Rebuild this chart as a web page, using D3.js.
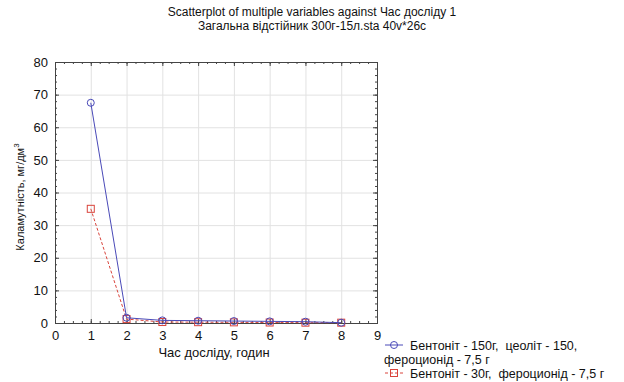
<!DOCTYPE html>
<html>
<head>
<meta charset="utf-8">
<script src="https://cdn.jsdelivr.net/npm/d3@7"></script>
<style>
  body { margin: 0; background: #fff; }
  text { font-family: "Liberation Sans", Arial, sans-serif; fill: #111; white-space: pre; }
</style>
</head>
<body>
<svg width="624" height="382"></svg>
<script>
const hours = [1, 2, 3, 4, 5, 6, 7, 8];
const bentZeol = [67.5, 1.6, 0.8, 0.7, 0.6, 0.5, 0.4, 0.1];
const bentFerro = [35, 1.2, 0.3, 0.25, 0.2, 0.15, 0.1, 0.1];
const xTicks = [0, 1, 2, 3, 4, 5, 6, 7, 8, 9];
const yTicks = [0, 10, 20, 30, 40, 50, 60, 70, 80];
const titleLines = ["Scatterplot of multiple variables against Час досліду 1",
                    "Загальна відстійник 300г-15л.sta 40v*26c"];

const width = 624, height = 382;
const svg = d3.select("svg");

const x = d3.scaleLinear().domain([0, 9]).range([55, 377]);
const y = d3.scaleLinear().domain([0, 80]).range([323, 62]);

// title
svg.append("g").selectAll("text")
  .data(titleLines)
  .join("text")
  .attr("x", 312)
  .attr("y", (d, i) => 16 + i * 14)
  .attr("text-anchor", "middle")
  .attr("font-size", 12)
  .text(d => d);

// grid
const grid = svg.append("g").attr("stroke", "#e2e2e2").attr("stroke-width", 1);
grid.selectAll(".gx").data(xTicks.slice(1, -1)).join("line")
  .attr("x1", d => x(d) + 0.5).attr("x2", d => x(d) + 0.5)
  .attr("y1", y(80)).attr("y2", y(0));
grid.selectAll(".gy").data(yTicks.slice(1, -1)).join("line")
  .attr("y1", d => y(d) + 0.5).attr("y2", d => y(d) + 0.5)
  .attr("x1", x(0)).attr("x2", x(9));

// axes with inward ticks, on all four sides
const minorX = d3.range(0, 9.01, 0.25);
const minorY = d3.range(0, 80.01, 2);

function axisGroup(axis, tr) {
  const g = svg.append("g").attr("transform", tr).call(axis);
  g.select(".domain").attr("stroke", "#444");
  g.selectAll(".tick line").attr("stroke", "#444");
  g.selectAll("text").attr("font-size", 13).attr("fill", "#111")
    .attr("font-family", "Liberation Sans, Arial, sans-serif");
  return g;
}

axisGroup(d3.axisBottom(x).tickValues(xTicks).tickSize(-4).tickPadding(8).tickFormat(d3.format("d")),
  `translate(0,${y(0)})`);
axisGroup(d3.axisBottom(x).tickValues(minorX).tickSize(-2).tickFormat(""), `translate(0,${y(0)})`);
axisGroup(d3.axisTop(x).tickValues(minorX).tickSize(-2).tickFormat(""), `translate(0,${y(80)})`);
axisGroup(d3.axisTop(x).tickValues(xTicks).tickSize(-4).tickFormat(""), `translate(0,${y(80)})`);

axisGroup(d3.axisLeft(y).tickValues(yTicks).tickSize(-4).tickPadding(7).tickFormat(d3.format("d")),
  `translate(${x(0)},0)`);
axisGroup(d3.axisLeft(y).tickValues(minorY).tickSize(-2).tickFormat(""), `translate(${x(0)},0)`);
axisGroup(d3.axisRight(y).tickValues(minorY).tickSize(-2).tickFormat(""), `translate(${x(9)},0)`);
axisGroup(d3.axisRight(y).tickValues(yTicks).tickSize(-4).tickFormat(""), `translate(${x(9)},0)`);

// axis titles
svg.append("text")
  .attr("x", 214).attr("y", 357)
  .attr("text-anchor", "middle")
  .attr("font-size", 13)
  .text("Час досліду, годин");

const yl = svg.append("text")
  .attr("transform", `translate(24,${197}) rotate(-90)`)
  .attr("text-anchor", "middle")
  .attr("font-size", 11)
  .text("Каламутність, мг/дм");
yl.append("tspan").attr("dy", -5).attr("font-size", 8).text("3");

// series
const series = [
  { name: ["Бентоніт - 150г,  цеоліт - 150,", "фероционід - 7,5 г"], values: bentZeol,
    color: "#4a4ab8", dash: null, shape: "circle" },
  { name: ["Бентоніт - 30г,  фероционід - 7,5 г"], values: bentFerro,
    color: "#d9443c", dash: "3,2", shape: "square" }
];

const line = d3.line().x(d => x(d[0])).y(d => y(d[1]));

function marker(g, shape, color, cx, cy) {
  if (shape === "circle") {
    g.append("circle").attr("cx", cx).attr("cy", cy).attr("r", 3.5)
      .attr("fill", "none").attr("stroke", color).attr("stroke-width", 1);
  } else {
    g.append("rect").attr("x", cx - 3.5).attr("y", cy - 3.5).attr("width", 7).attr("height", 7)
      .attr("fill", "none").attr("stroke", color).attr("stroke-width", 1);
  }
}

series.slice().reverse().forEach(s => {
  const pts = hours.map((h, i) => [h, s.values[i]]);
  const g = svg.append("g");
  g.append("path").datum(pts)
    .attr("d", line)
    .attr("fill", "none")
    .attr("stroke", s.color)
    .attr("stroke-width", 1)
    .attr("stroke-dasharray", s.dash);
  pts.forEach(p => marker(g, s.shape, s.color, x(p[0]), y(p[1])));
});

// legend
const lg = svg.append("g");
let ly = 345;
series.forEach(s => {
  lg.append("line").attr("x1", 385).attr("x2", 403).attr("y1", ly).attr("y2", ly)
    .attr("stroke", s.color).attr("stroke-dasharray", s.dash);
  marker(lg, s.shape, s.color, 394, ly);
  s.name.forEach((t, i) => {
    lg.append("text")
      .attr("x", i === 0 ? 410 : 384)
      .attr("y", ly + 4.5 + i * 14)
      .attr("font-size", 12.5)
      .text(t);
  });
  ly += 14 * s.name.length;
});
</script>
</body>
</html>
